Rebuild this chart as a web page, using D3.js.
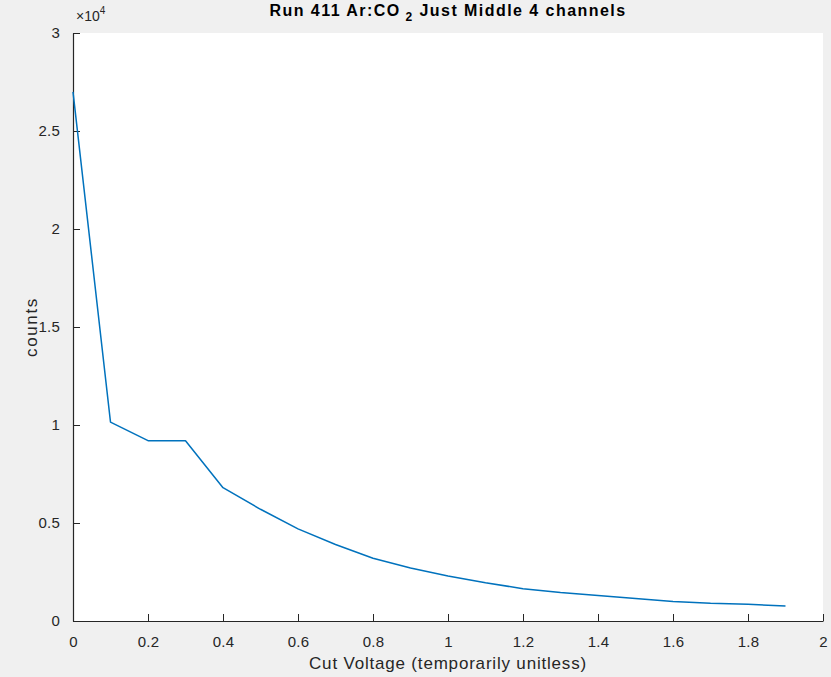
<!DOCTYPE html>
<html><head><meta charset="utf-8">
<script src="https://cdn.jsdelivr.net/npm/d3@7"></script>
<style>
html,body{margin:0;padding:0;background:#f0f0f0;}
svg{display:block;font-family:"Liberation Sans",Arial,Helvetica,sans-serif;}
</style></head>
<body>
<svg id="c" width="831" height="677"></svg>
<script>
const xValues = [0,0.1,0.2,0.3,0.4,0.5,0.6,0.7,0.8,0.9,1.0,1.1,1.2,1.3,1.4,1.5,1.6,1.7,1.8,1.9];
const counts = [27000,10150,9200,9200,6800,5700,4700,3900,3200,2700,2300,1950,1650,1450,1300,1150,1000,900,850,770];
const xTicks = [0,0.2,0.4,0.6,0.8,1,1.2,1.4,1.6,1.8,2];
const yTicks = [0,5000,10000,15000,20000,25000,30000];
const yTickLabels = ["0","0.5","1","1.5","2","2.5","3"];

const svg = d3.select("#c");
const m = {left:73, right:823, top:33, bottom:621};
const x = d3.scaleLinear().domain([0,2]).range([m.left,m.right]);
const y = d3.scaleLinear().domain([0,30000]).range([m.bottom,m.top]);
const axisColor = "#262626";

function fit(sel, target){
  const node = sel.node();
  const w = node.getComputedTextLength();
  const n = node.textContent.length;
  if (n > 1) sel.attr("letter-spacing", ((target - w) / n).toFixed(2));
}

svg.append("rect").attr("x",0).attr("y",0).attr("width",831).attr("height",677).attr("fill","#f0f0f0");
svg.append("rect").attr("x",m.left).attr("y",m.top).attr("width",m.right-m.left).attr("height",m.bottom-m.top).attr("fill","#ffffff");

const xAxis = d3.axisBottom(x).tickValues(xTicks).tickSizeInner(-7).tickSizeOuter(0).tickPadding(15)
  .tickFormat(d => d3.format("")(+d.toFixed(1)));
const gx = svg.append("g").attr("transform",`translate(0,${m.bottom})`).call(xAxis);
const yAxis = d3.axisLeft(y).tickValues(yTicks).tickSizeInner(-7).tickSizeOuter(0).tickPadding(13)
  .tickFormat((d,i) => yTickLabels[i]);
const gy = svg.append("g").attr("transform",`translate(${m.left},0)`).call(yAxis);

[gx,gy].forEach(g=>{
  g.select(".domain").attr("stroke",axisColor).attr("stroke-width",1.2);
  g.selectAll(".tick line").attr("stroke",axisColor).attr("stroke-width",1);
  g.selectAll(".tick text").attr("fill",axisColor).attr("font-size",15).attr("letter-spacing",0.2);
});

const line = d3.line().x((d,i)=>x(xValues[i])).y(d=>y(d));
svg.append("path").datum(counts).attr("d",line).attr("fill","none")
  .attr("stroke","#0072BD").attr("stroke-width",1.5).attr("stroke-linejoin","round");

// exponent label
const ex = svg.append("text").attr("x",m.left+3).attr("y",m.top-12).attr("fill",axisColor).attr("font-size",14);
ex.append("tspan").text("×10");
ex.append("tspan").attr("font-size",10).attr("dy",-7).text("4");

// title
const t = svg.append("text").attr("x",(m.left+m.right)/2).attr("y",16).attr("text-anchor","middle")
  .attr("font-size",16).attr("font-weight","bold").attr("fill","#000");
t.append("tspan").text("Run 411 Ar:CO");
t.append("tspan").attr("font-size",12).attr("dy",5).text(" 2");
t.append("tspan").attr("dy",-5).text(" Just Middle 4 channels");
fit(t, 357);

const xl = svg.append("text").attr("x",(m.left+m.right)/2).attr("y",669).attr("text-anchor","middle")
  .attr("font-size",17).attr("fill",axisColor).text("Cut Voltage (temporarily unitless)");
fit(xl, 278);
const yl = svg.append("text").attr("transform",`translate(37,${(m.top+m.bottom)/2}) rotate(-90)`).attr("text-anchor","middle")
  .attr("font-size",17).attr("fill",axisColor).text("counts");
fit(yl, 60);
</script>
</body></html>
